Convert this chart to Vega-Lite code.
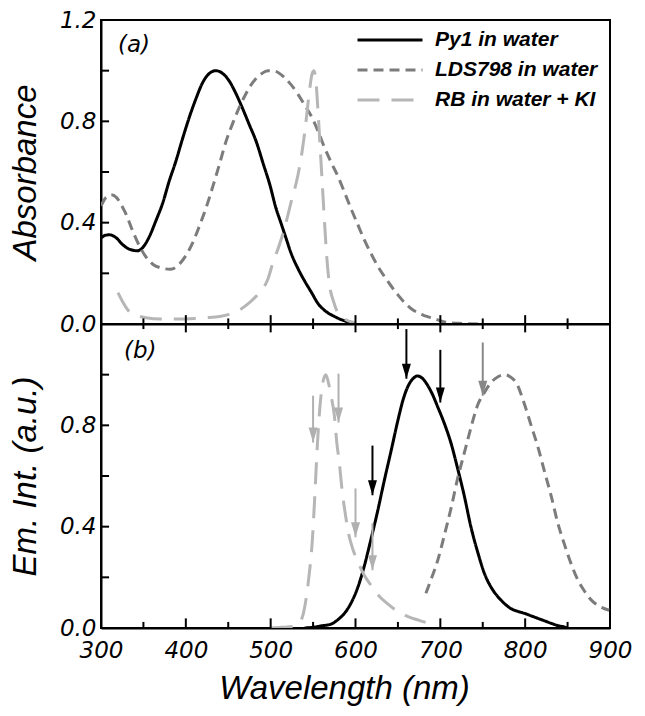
{
  "$schema": "https://vega.github.io/schema/vega-lite/v6.json",
  "background": "white",
  "padding": {"left": 7, "top": 8, "right": 5, "bottom": 5},
  "spacing": 0,
  "bounds": "flush",
  "config": {
    "view": {"stroke": "#000", "strokeWidth": 2},
    "axis": {"domainColor": "#000", "domainWidth": 2, "tickSize": 0, "grid": false,
      "labelFont": "DejaVu Sans", "labelFontStyle": "italic", "labelFontSize": 23, "labelColor": "#000",
      "labelFlush": false, "labelOverlap": false,
      "titleFont": "Liberation Sans", "titleFontStyle": "italic", "titleFontSize": 33, "titleFontWeight": "normal", "titleColor": "#000"}
  },
  "resolve": {"legend": {"color": "independent", "strokeDash": "independent"}},
  "datasets": {
    "absorb": [
      {"series": "Py1 in water", "wl": 300, "val": 0.34}, {"series": "Py1 in water", "wl": 305, "val": 0.35}, {"series": "Py1 in water", "wl": 310, "val": 0.352}, {"series": "Py1 in water", "wl": 318, "val": 0.34}, {"series": "Py1 in water", "wl": 325, "val": 0.315}, {"series": "Py1 in water", "wl": 333, "val": 0.296}, {"series": "Py1 in water", "wl": 343, "val": 0.289}, {"series": "Py1 in water", "wl": 350, "val": 0.305}, {"series": "Py1 in water", "wl": 357, "val": 0.345}, {"series": "Py1 in water", "wl": 365, "val": 0.41}, {"series": "Py1 in water", "wl": 373, "val": 0.48}, {"series": "Py1 in water", "wl": 380, "val": 0.56}, {"series": "Py1 in water", "wl": 388, "val": 0.64}, {"series": "Py1 in water", "wl": 396, "val": 0.73}, {"series": "Py1 in water", "wl": 404, "val": 0.815}, {"series": "Py1 in water", "wl": 412, "val": 0.89}, {"series": "Py1 in water", "wl": 420, "val": 0.954}, {"series": "Py1 in water", "wl": 428, "val": 0.99}, {"series": "Py1 in water", "wl": 435, "val": 1.0}, {"series": "Py1 in water", "wl": 443, "val": 0.99}, {"series": "Py1 in water", "wl": 451, "val": 0.96}, {"series": "Py1 in water", "wl": 459, "val": 0.91}, {"series": "Py1 in water", "wl": 467, "val": 0.85}, {"series": "Py1 in water", "wl": 475, "val": 0.785}, {"series": "Py1 in water", "wl": 483, "val": 0.72}, {"series": "Py1 in water", "wl": 491, "val": 0.635}, {"series": "Py1 in water", "wl": 499, "val": 0.55}, {"series": "Py1 in water", "wl": 506, "val": 0.46}, {"series": "Py1 in water", "wl": 512, "val": 0.4}, {"series": "Py1 in water", "wl": 518, "val": 0.34}, {"series": "Py1 in water", "wl": 524, "val": 0.28}, {"series": "Py1 in water", "wl": 532, "val": 0.22}, {"series": "Py1 in water", "wl": 540, "val": 0.17}, {"series": "Py1 in water", "wl": 548, "val": 0.125}, {"series": "Py1 in water", "wl": 556, "val": 0.08}, {"series": "Py1 in water", "wl": 565, "val": 0.05}, {"series": "Py1 in water", "wl": 575, "val": 0.03}, {"series": "Py1 in water", "wl": 585, "val": 0.015}, {"series": "Py1 in water", "wl": 598, "val": 0.005},
      {"series": "LDS798 in water", "wl": 300, "val": 0.466}, {"series": "LDS798 in water", "wl": 306, "val": 0.5}, {"series": "LDS798 in water", "wl": 312, "val": 0.51}, {"series": "LDS798 in water", "wl": 318, "val": 0.5}, {"series": "LDS798 in water", "wl": 324, "val": 0.47}, {"series": "LDS798 in water", "wl": 330, "val": 0.43}, {"series": "LDS798 in water", "wl": 337, "val": 0.37}, {"series": "LDS798 in water", "wl": 345, "val": 0.31}, {"series": "LDS798 in water", "wl": 353, "val": 0.265}, {"series": "LDS798 in water", "wl": 361, "val": 0.236}, {"series": "LDS798 in water", "wl": 370, "val": 0.222}, {"series": "LDS798 in water", "wl": 382, "val": 0.216}, {"series": "LDS798 in water", "wl": 392, "val": 0.235}, {"series": "LDS798 in water", "wl": 400, "val": 0.27}, {"series": "LDS798 in water", "wl": 408, "val": 0.32}, {"series": "LDS798 in water", "wl": 416, "val": 0.387}, {"series": "LDS798 in water", "wl": 424, "val": 0.46}, {"series": "LDS798 in water", "wl": 432, "val": 0.545}, {"series": "LDS798 in water", "wl": 440, "val": 0.635}, {"series": "LDS798 in water", "wl": 447, "val": 0.717}, {"series": "LDS798 in water", "wl": 455, "val": 0.79}, {"series": "LDS798 in water", "wl": 463, "val": 0.855}, {"series": "LDS798 in water", "wl": 471, "val": 0.91}, {"series": "LDS798 in water", "wl": 479, "val": 0.954}, {"series": "LDS798 in water", "wl": 488, "val": 0.985}, {"series": "LDS798 in water", "wl": 497, "val": 1.0}, {"series": "LDS798 in water", "wl": 505, "val": 0.998}, {"series": "LDS798 in water", "wl": 516, "val": 0.974}, {"series": "LDS798 in water", "wl": 524, "val": 0.945}, {"series": "LDS798 in water", "wl": 532, "val": 0.908}, {"series": "LDS798 in water", "wl": 540, "val": 0.865}, {"series": "LDS798 in water", "wl": 548, "val": 0.82}, {"series": "LDS798 in water", "wl": 556, "val": 0.76}, {"series": "LDS798 in water", "wl": 563, "val": 0.7}, {"series": "LDS798 in water", "wl": 571, "val": 0.64}, {"series": "LDS798 in water", "wl": 579, "val": 0.585}, {"series": "LDS798 in water", "wl": 587, "val": 0.52}, {"series": "LDS798 in water", "wl": 595, "val": 0.453}, {"series": "LDS798 in water", "wl": 603, "val": 0.39}, {"series": "LDS798 in water", "wl": 610, "val": 0.335}, {"series": "LDS798 in water", "wl": 618, "val": 0.28}, {"series": "LDS798 in water", "wl": 626, "val": 0.23}, {"series": "LDS798 in water", "wl": 634, "val": 0.188}, {"series": "LDS798 in water", "wl": 642, "val": 0.15}, {"series": "LDS798 in water", "wl": 650, "val": 0.115}, {"series": "LDS798 in water", "wl": 658, "val": 0.084}, {"series": "LDS798 in water", "wl": 665, "val": 0.062}, {"series": "LDS798 in water", "wl": 673, "val": 0.045}, {"series": "LDS798 in water", "wl": 681, "val": 0.033}, {"series": "LDS798 in water", "wl": 689, "val": 0.025}, {"series": "LDS798 in water", "wl": 697, "val": 0.016}, {"series": "LDS798 in water", "wl": 705, "val": 0.008}, {"series": "LDS798 in water", "wl": 720, "val": 0.003}, {"series": "LDS798 in water", "wl": 748, "val": 0.0},
      {"series": "RB in water + KI", "wl": 320, "val": 0.124}, {"series": "RB in water + KI", "wl": 326, "val": 0.085}, {"series": "RB in water + KI", "wl": 333, "val": 0.05}, {"series": "RB in water + KI", "wl": 343, "val": 0.033}, {"series": "RB in water + KI", "wl": 353, "val": 0.025}, {"series": "RB in water + KI", "wl": 370, "val": 0.02}, {"series": "RB in water + KI", "wl": 392, "val": 0.02}, {"series": "RB in water + KI", "wl": 410, "val": 0.022}, {"series": "RB in water + KI", "wl": 424, "val": 0.025}, {"series": "RB in water + KI", "wl": 440, "val": 0.03}, {"series": "RB in water + KI", "wl": 451, "val": 0.038}, {"series": "RB in water + KI", "wl": 463, "val": 0.055}, {"series": "RB in water + KI", "wl": 475, "val": 0.084}, {"series": "RB in water + KI", "wl": 483, "val": 0.11}, {"series": "RB in water + KI", "wl": 491, "val": 0.14}, {"series": "RB in water + KI", "wl": 497, "val": 0.18}, {"series": "RB in water + KI", "wl": 502, "val": 0.235}, {"series": "RB in water + KI", "wl": 509, "val": 0.3}, {"series": "RB in water + KI", "wl": 516, "val": 0.374}, {"series": "RB in water + KI", "wl": 524, "val": 0.48}, {"series": "RB in water + KI", "wl": 532, "val": 0.585}, {"series": "RB in water + KI", "wl": 537, "val": 0.68}, {"series": "RB in water + KI", "wl": 541, "val": 0.78}, {"series": "RB in water + KI", "wl": 545, "val": 0.9}, {"series": "RB in water + KI", "wl": 549, "val": 0.99}, {"series": "RB in water + KI", "wl": 551, "val": 1.0}, {"series": "RB in water + KI", "wl": 553, "val": 0.97}, {"series": "RB in water + KI", "wl": 556, "val": 0.83}, {"series": "RB in water + KI", "wl": 559, "val": 0.66}, {"series": "RB in water + KI", "wl": 563, "val": 0.43}, {"series": "RB in water + KI", "wl": 566, "val": 0.27}, {"series": "RB in water + KI", "wl": 569, "val": 0.163}, {"series": "RB in water + KI", "wl": 574, "val": 0.09}, {"series": "RB in water + KI", "wl": 579, "val": 0.045}, {"series": "RB in water + KI", "wl": 587, "val": 0.02}, {"series": "RB in water + KI", "wl": 595, "val": 0.008}, {"series": "RB in water + KI", "wl": 600, "val": 0.005}
    ],
    "emiss": [
      {"series": "Py1 in water", "wl": 540, "val": 0.0}, {"series": "Py1 in water", "wl": 550, "val": 0.003}, {"series": "Py1 in water", "wl": 559, "val": 0.008}, {"series": "Py1 in water", "wl": 571, "val": 0.015}, {"series": "Py1 in water", "wl": 580, "val": 0.035}, {"series": "Py1 in water", "wl": 587, "val": 0.058}, {"series": "Py1 in water", "wl": 595, "val": 0.1}, {"series": "Py1 in water", "wl": 603, "val": 0.163}, {"series": "Py1 in water", "wl": 610, "val": 0.24}, {"series": "Py1 in water", "wl": 618, "val": 0.347}, {"series": "Py1 in water", "wl": 626, "val": 0.46}, {"series": "Py1 in water", "wl": 634, "val": 0.583}, {"series": "Py1 in water", "wl": 642, "val": 0.7}, {"series": "Py1 in water", "wl": 650, "val": 0.82}, {"series": "Py1 in water", "wl": 656, "val": 0.9}, {"series": "Py1 in water", "wl": 662, "val": 0.955}, {"series": "Py1 in water", "wl": 668, "val": 0.985}, {"series": "Py1 in water", "wl": 673, "val": 0.995}, {"series": "Py1 in water", "wl": 679, "val": 0.985}, {"series": "Py1 in water", "wl": 685, "val": 0.958}, {"series": "Py1 in water", "wl": 691, "val": 0.92}, {"series": "Py1 in water", "wl": 697, "val": 0.872}, {"series": "Py1 in water", "wl": 705, "val": 0.805}, {"series": "Py1 in water", "wl": 713, "val": 0.725}, {"series": "Py1 in water", "wl": 720, "val": 0.635}, {"series": "Py1 in water", "wl": 728, "val": 0.525}, {"series": "Py1 in water", "wl": 736, "val": 0.4}, {"series": "Py1 in water", "wl": 744, "val": 0.3}, {"series": "Py1 in water", "wl": 752, "val": 0.215}, {"series": "Py1 in water", "wl": 760, "val": 0.16}, {"series": "Py1 in water", "wl": 768, "val": 0.123}, {"series": "Py1 in water", "wl": 776, "val": 0.095}, {"series": "Py1 in water", "wl": 783, "val": 0.077}, {"series": "Py1 in water", "wl": 791, "val": 0.066}, {"series": "Py1 in water", "wl": 799, "val": 0.058}, {"series": "Py1 in water", "wl": 807, "val": 0.048}, {"series": "Py1 in water", "wl": 815, "val": 0.038}, {"series": "Py1 in water", "wl": 823, "val": 0.028}, {"series": "Py1 in water", "wl": 831, "val": 0.018}, {"series": "Py1 in water", "wl": 838, "val": 0.01}, {"series": "Py1 in water", "wl": 846, "val": 0.004}, {"series": "Py1 in water", "wl": 850, "val": 0.0},
      {"series": "LDS798 in water", "wl": 683, "val": 0.137}, {"series": "LDS798 in water", "wl": 690, "val": 0.2}, {"series": "LDS798 in water", "wl": 697, "val": 0.268}, {"series": "LDS798 in water", "wl": 705, "val": 0.37}, {"series": "LDS798 in water", "wl": 713, "val": 0.478}, {"series": "LDS798 in water", "wl": 720, "val": 0.585}, {"series": "LDS798 in water", "wl": 728, "val": 0.688}, {"series": "LDS798 in water", "wl": 736, "val": 0.79}, {"series": "LDS798 in water", "wl": 744, "val": 0.88}, {"series": "LDS798 in water", "wl": 752, "val": 0.93}, {"series": "LDS798 in water", "wl": 760, "val": 0.97}, {"series": "LDS798 in water", "wl": 768, "val": 0.992}, {"series": "LDS798 in water", "wl": 776, "val": 1.0}, {"series": "LDS798 in water", "wl": 783, "val": 0.99}, {"series": "LDS798 in water", "wl": 790, "val": 0.965}, {"series": "LDS798 in water", "wl": 799, "val": 0.885}, {"series": "LDS798 in water", "wl": 807, "val": 0.8}, {"series": "LDS798 in water", "wl": 815, "val": 0.715}, {"series": "LDS798 in water", "wl": 823, "val": 0.615}, {"series": "LDS798 in water", "wl": 831, "val": 0.517}, {"series": "LDS798 in water", "wl": 838, "val": 0.42}, {"series": "LDS798 in water", "wl": 846, "val": 0.333}, {"series": "LDS798 in water", "wl": 854, "val": 0.255}, {"series": "LDS798 in water", "wl": 862, "val": 0.19}, {"series": "LDS798 in water", "wl": 870, "val": 0.145}, {"series": "LDS798 in water", "wl": 878, "val": 0.11}, {"series": "LDS798 in water", "wl": 888, "val": 0.085}, {"series": "LDS798 in water", "wl": 899, "val": 0.07},
      {"series": "RB in water + KI", "wl": 500, "val": 0.0}, {"series": "RB in water + KI", "wl": 510, "val": 0.002}, {"series": "RB in water + KI", "wl": 520, "val": 0.004}, {"series": "RB in water + KI", "wl": 530, "val": 0.01}, {"series": "RB in water + KI", "wl": 537, "val": 0.04}, {"series": "RB in water + KI", "wl": 541, "val": 0.1}, {"series": "RB in water + KI", "wl": 545, "val": 0.2}, {"series": "RB in water + KI", "wl": 549, "val": 0.34}, {"series": "RB in water + KI", "wl": 552, "val": 0.52}, {"series": "RB in water + KI", "wl": 555, "val": 0.72}, {"series": "RB in water + KI", "wl": 558, "val": 0.87}, {"series": "RB in water + KI", "wl": 561, "val": 0.96}, {"series": "RB in water + KI", "wl": 565, "val": 1.0}, {"series": "RB in water + KI", "wl": 568, "val": 0.97}, {"series": "RB in water + KI", "wl": 571, "val": 0.92}, {"series": "RB in water + KI", "wl": 575, "val": 0.84}, {"series": "RB in water + KI", "wl": 578, "val": 0.73}, {"series": "RB in water + KI", "wl": 581, "val": 0.65}, {"series": "RB in water + KI", "wl": 584, "val": 0.55}, {"series": "RB in water + KI", "wl": 588, "val": 0.45}, {"series": "RB in water + KI", "wl": 592, "val": 0.37}, {"series": "RB in water + KI", "wl": 597, "val": 0.31}, {"series": "RB in water + KI", "wl": 603, "val": 0.26}, {"series": "RB in water + KI", "wl": 610, "val": 0.21}, {"series": "RB in water + KI", "wl": 618, "val": 0.17}, {"series": "RB in water + KI", "wl": 628, "val": 0.125}, {"series": "RB in water + KI", "wl": 638, "val": 0.095}, {"series": "RB in water + KI", "wl": 650, "val": 0.065}, {"series": "RB in water + KI", "wl": 662, "val": 0.045}, {"series": "RB in water + KI", "wl": 675, "val": 0.03}, {"series": "RB in water + KI", "wl": 685, "val": 0.02}
    ],
    "arrows": [
      {"kind": "black", "wl": 660, "start": 1.18, "tip": 0.984},
      {"kind": "black", "wl": 700, "start": 1.098, "tip": 0.89},
      {"kind": "black", "wl": 620, "start": 0.72, "tip": 0.524},
      {"kind": "dark", "wl": 750, "start": 1.127, "tip": 0.917},
      {"kind": "light", "wl": 550, "start": 0.917, "tip": 0.732},
      {"kind": "light", "wl": 580, "start": 1.004, "tip": 0.811},
      {"kind": "light", "wl": 600, "start": 0.551, "tip": 0.358},
      {"kind": "light", "wl": 620, "start": 0.413, "tip": 0.228}
    ],
    "xmajor": [{"wl": 400}, {"wl": 500}, {"wl": 600}, {"wl": 700}, {"wl": 800}],
    "xminor": [{"wl": 350}, {"wl": 450}, {"wl": 550}, {"wl": 650}, {"wl": 750}, {"wl": 850}],
    "yticks": [{"v": 0.2}, {"v": 0.4}, {"v": 0.6}, {"v": 0.8}, {"v": 1.0}]
  },
  "vconcat": [
    {
      "width": 509,
      "height": 304,
      "layer": [
        {
          "data": {"name": "absorb"},
          "mark": {"type": "line", "strokeWidth": 3, "interpolate": "monotone", "clip": true},
          "encoding": {
            "x": {"field": "wl", "type": "quantitative",
              "scale": {"domain": [300, 900], "nice": false, "zero": false},
              "axis": {"title": null, "labels": false, "values": [300, 400, 500, 600, 700, 800, 900]}},
            "y": {"field": "val", "type": "quantitative",
              "scale": {"domain": [0, 1.2], "nice": false},
              "axis": {"title": "Absorbance", "values": [0, 0.4, 0.8, 1.2], "labelPadding": 5, "format": ".1f",
                "titleX": -66, "titleY": 152, "titleBaseline": "alphabetic", "titleAlign": "center"}},
            "color": {"field": "series", "type": "nominal",
              "scale": {"domain": ["Py1 in water", "LDS798 in water", "RB in water + KI"], "range": ["#000000", "#7c7c7c", "#b6b6b6"]},
              "legend": {"orient": "none", "legendX": 255, "legendY": 9, "title": null, "symbolType": "stroke", "symbolSize": 4225, "symbolStrokeWidth": 3, "clipHeight": 22, "rowPadding": 8, "labelOffset": 11, "labelLimit": 400, "labelFont": "Liberation Sans", "labelFontSize": 21, "labelFontWeight": "bold", "labelFontStyle": "italic", "labelColor": "#000"}},
            "strokeDash": {"field": "series", "type": "nominal",
              "scale": {"domain": ["Py1 in water", "LDS798 in water", "RB in water + KI"], "range": [[1, 0], [10, 6], [22, 12]]},
              "legend": {"orient": "none", "legendX": 255, "legendY": 9, "title": null, "symbolType": "stroke", "symbolSize": 4225, "symbolStrokeWidth": 3, "clipHeight": 22, "rowPadding": 8, "labelOffset": 11, "labelLimit": 400, "labelFont": "Liberation Sans", "labelFontSize": 21, "labelFontWeight": "bold", "labelFontStyle": "italic", "labelColor": "#000"}}
          }
        },
        {
          "data": {"name": "xmajor"},
          "mark": {"type": "rule", "strokeWidth": 2, "color": "#000"},
          "encoding": {
            "x": {"field": "wl", "type": "quantitative"},
            "y": {"datum": -0.033, "type": "quantitative"},
            "y2": {"datum": 0.035}
          }
        },
        {
          "data": {"name": "xminor"},
          "mark": {"type": "rule", "strokeWidth": 2, "color": "#000"},
          "encoding": {
            "x": {"field": "wl", "type": "quantitative"},
            "y": {"datum": -0.02, "type": "quantitative"},
            "y2": {"datum": 0.022}
          }
        },
        {
          "data": {"name": "yticks"},
          "mark": {"type": "rule", "strokeWidth": 2, "color": "#000"},
          "encoding": {
            "y": {"field": "v", "type": "quantitative"},
            "x": {"datum": 300, "type": "quantitative"},
            "x2": {"datum": 309.5}
          }
        },
        {
          "data": {"values": [{"label": "(a)"}]},
          "mark": {"type": "text", "font": "DejaVu Sans", "fontStyle": "italic", "fontSize": 23, "align": "left", "baseline": "middle", "color": "#000"},
          "encoding": {
            "x": {"datum": 320, "type": "quantitative"},
            "y": {"datum": 1.1, "type": "quantitative"},
            "text": {"field": "label"}
          }
        }
      ]
    },
    {
      "width": 509,
      "height": 304,
      "layer": [
        {
          "data": {"name": "emiss"},
          "mark": {"type": "line", "strokeWidth": 3, "interpolate": "monotone", "clip": true},
          "encoding": {
            "x": {"field": "wl", "type": "quantitative",
              "scale": {"domain": [300, 900], "nice": false, "zero": false},
              "axis": {"title": "Wavelength (nm)", "values": [300, 400, 500, 600, 700, 800, 900], "labelPadding": 11,
                "titleX": 243, "titleY": 70, "titleBaseline": "alphabetic", "titleAlign": "center"}},
            "y": {"field": "val", "type": "quantitative",
              "scale": {"domain": [0, 1.2], "nice": false},
              "axis": {"title": "Em. Int. (a.u.)", "values": [0, 0.4, 0.8], "labelPadding": 5, "format": ".1f",
                "titleX": -66, "titleY": 152, "titleBaseline": "alphabetic", "titleAlign": "center"}},
            "color": {"field": "series", "type": "nominal", "legend": null},
            "strokeDash": {"field": "series", "type": "nominal", "legend": null}
          }
        },
        {
          "data": {"name": "xmajor"},
          "mark": {"type": "rule", "strokeWidth": 2, "color": "#000"},
          "encoding": {
            "x": {"field": "wl", "type": "quantitative"},
            "y": {"datum": 0, "type": "quantitative"},
            "y2": {"datum": 0.038}
          }
        },
        {
          "data": {"name": "xminor"},
          "mark": {"type": "rule", "strokeWidth": 2, "color": "#000"},
          "encoding": {
            "x": {"field": "wl", "type": "quantitative"},
            "y": {"datum": 0, "type": "quantitative"},
            "y2": {"datum": 0.024}
          }
        },
        {
          "data": {"name": "yticks"},
          "mark": {"type": "rule", "strokeWidth": 2, "color": "#000"},
          "encoding": {
            "y": {"field": "v", "type": "quantitative"},
            "x": {"datum": 300, "type": "quantitative"},
            "x2": {"datum": 309.5}
          }
        },
        {
          "data": {"name": "arrows"},
          "mark": {"type": "rule", "strokeWidth": 2},
          "encoding": {
            "x": {"field": "wl", "type": "quantitative"},
            "y": {"field": "start", "type": "quantitative"},
            "y2": {"field": "tip"},
            "stroke": {"field": "kind", "type": "nominal", "scale": {"domain": ["black", "dark", "light"], "range": ["#000000", "#888888", "#b0b0b0"]}, "legend": null}
          }
        },
        {
          "data": {"name": "arrows"},
          "mark": {"type": "point", "filled": true, "opacity": 1, "size": 100, "strokeWidth": 0, "shape": "M-0.9,-3L0.9,-3L0,0Z"},
          "encoding": {
            "x": {"field": "wl", "type": "quantitative"},
            "y": {"field": "tip", "type": "quantitative"},
            "fill": {"field": "kind", "type": "nominal", "scale": {"domain": ["black", "dark", "light"], "range": ["#000000", "#888888", "#b0b0b0"]}, "legend": null}
          }
        },
        {
          "data": {"values": [{"label": "(b)"}]},
          "mark": {"type": "text", "font": "DejaVu Sans", "fontStyle": "italic", "fontSize": 23, "align": "left", "baseline": "middle", "color": "#000"},
          "encoding": {
            "x": {"datum": 327, "type": "quantitative"},
            "y": {"datum": 1.094, "type": "quantitative"},
            "text": {"field": "label"}
          }
        }
      ]
    }
  ]
}
